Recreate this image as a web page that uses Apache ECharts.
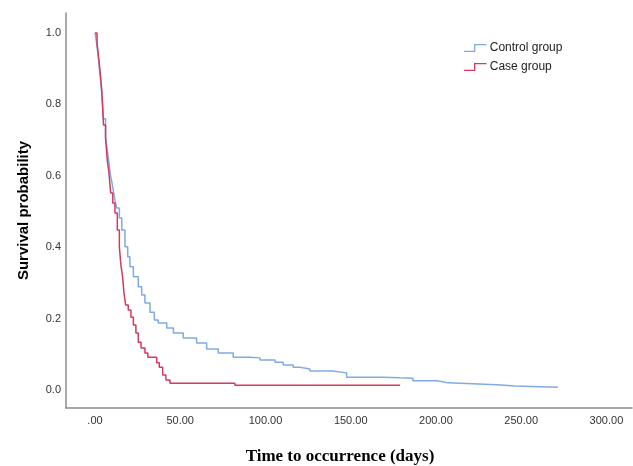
<!DOCTYPE html>
<html>
<head>
<meta charset="utf-8">
<script src="https://cdn.jsdelivr.net/npm/echarts@6/dist/echarts.min.js"></script>
<style>html,body{margin:0;padding:0;background:#fff}#c{width:633px;height:466px}</style>
</head>
<body>
<div id="c"></div>
<script>
// Kaplan-Meier step data: [days, survival]
const seriesNames = ['Control group', 'Case group'];
const xTicks = [0, 50, 100, 150, 200, 250, 300];
const yTicks = [0, 0.2, 0.4, 0.6, 0.8, 1.0];

const controlGroup = [
  [0, 1.0], [1.0, 0.97], [2.0, 0.93], [3.0, 0.88], [4.0, 0.83], [5.0, 0.76],
  [6.2, 0.709], [7.2, 0.672], [8.2, 0.636], [9.2, 0.597], [9.7, 0.588],
  [10.7, 0.560], [11.7, 0.532], [12.7, 0.510], [14.3, 0.482], [15.7, 0.448],
  [17.6, 0.401], [19.2, 0.373], [20.5, 0.345], [22.5, 0.317], [25.4, 0.289],
  [27.4, 0.266], [29.3, 0.244], [32.3, 0.218], [34.8, 0.196], [37.1, 0.188],
  [42.1, 0.174], [46.0, 0.160], [51.8, 0.146], [59.6, 0.132], [65.5, 0.115],
  [72.3, 0.104], [81.1, 0.092], [90.9, 0.090], [96.8, 0.084], [105.6, 0.078],
  [110.4, 0.070], [116.3, 0.064], [120.2, 0.059], [126.1, 0.053], [139.6, 0.048],
  [147.6, 0.036], [168.9, 0.034], [178.9, 0.033], [186.5, 0.026], [200.6, 0.023],
  [204.0, 0.020], [207.0, 0.015], [235.8, 0.011], [246.3, 0.008], [271.5, 0.008]
];

const caseGroup = [
  [0, 1.0], [1.2, 0.972], [2.3, 0.924], [3.3, 0.877], [4.1, 0.829], [5.0, 0.742],
  [6.2, 0.706], [7.2, 0.644], [8.2, 0.608], [9.2, 0.552], [10.4, 0.524],
  [11.7, 0.496], [13.1, 0.448], [14.3, 0.401], [15.2, 0.350], [16.2, 0.317],
  [17.0, 0.272], [18.0, 0.238], [19.5, 0.224], [21.1, 0.204], [22.5, 0.182],
  [24.0, 0.160], [25.4, 0.134], [27.0, 0.118], [29.3, 0.104], [31.0, 0.092],
  [36.2, 0.076], [37.7, 0.064], [39.7, 0.042], [41.6, 0.028], [44.0, 0.019],
  [82.1, 0.013], [179.0, 0.013]
];

const blue = '#7fabe2';
const red = '#d7385f';
const chart = echarts.init(document.getElementById('c'), null, {renderer: 'canvas'});
const legendIcon = 'path://M0,8 L12,8 L12,0 L27,0 L27,1.6 L13.6,1.6 L13.6,9.6 L0,9.6 Z';

chart.setOption({
  animation: false,
  backgroundColor: '#ffffff',
  grid: {left: 66, top: 13, right: 1, bottom: 58, containLabel: false, outerBoundsMode: 'none'},
  legend: {
    orient: 'vertical', left: 459, top: 37, itemGap: 7,
    itemWidth: 27, itemHeight: 8, icon: legendIcon,
    textStyle: {fontFamily: 'Liberation Sans, Arial', fontSize: 12, color: '#222', padding: [0, 0, 0, -4]},
    data: seriesNames
  },
  xAxis: {
    type: 'value', min: -17, max: 315,
    name: 'Time to occurrence (days)', nameLocation: 'middle', nameGap: 40,
    nameTextStyle: {fontFamily: 'Liberation Serif, Times New Roman', fontWeight: 'bold', fontSize: 17, color: '#000', padding: [0, 18, 0, 0]},
    axisLine: {show: true, onZero: false, lineStyle: {color: '#8c8c8c', width: 1.5}},
    axisTick: {show: false},
    splitLine: {show: false},
    axisLabel: {
      customValues: xTicks, margin: 7,
      fontFamily: 'Liberation Sans, Arial', fontSize: 11, color: '#333',
      formatter: v => v === 0 ? '.00' : v.toFixed(2)
    }
  },
  yAxis: {
    type: 'value', min: -0.0504, max: 1.056,
    name: 'Survival probability', nameLocation: 'middle', nameGap: 35, nameRotate: 90,
    nameTextStyle: {fontFamily: 'Liberation Sans, Arial', fontWeight: 'bold', fontSize: 15, color: '#000'},
    axisLine: {show: true, onZero: false, lineStyle: {color: '#8c8c8c', width: 1.5}},
    axisTick: {show: false},
    splitLine: {show: false},
    axisLabel: {
      customValues: yTicks, margin: 5,
      fontFamily: 'Liberation Sans, Arial', fontSize: 11, color: '#333',
      formatter: v => v.toFixed(1)
    }
  },
  series: [
    {name: seriesNames[0], type: 'line', step: 'end', data: controlGroup, showSymbol: false,
     color: blue, lineStyle: {color: blue, width: 1.5}, itemStyle: {color: blue}, z: 2},
    {name: seriesNames[1], type: 'line', step: 'end', data: caseGroup, showSymbol: false,
     color: red, lineStyle: {color: red, width: 1.5}, itemStyle: {color: red}, z: 3}
  ]
});
</script>
</body>
</html>
